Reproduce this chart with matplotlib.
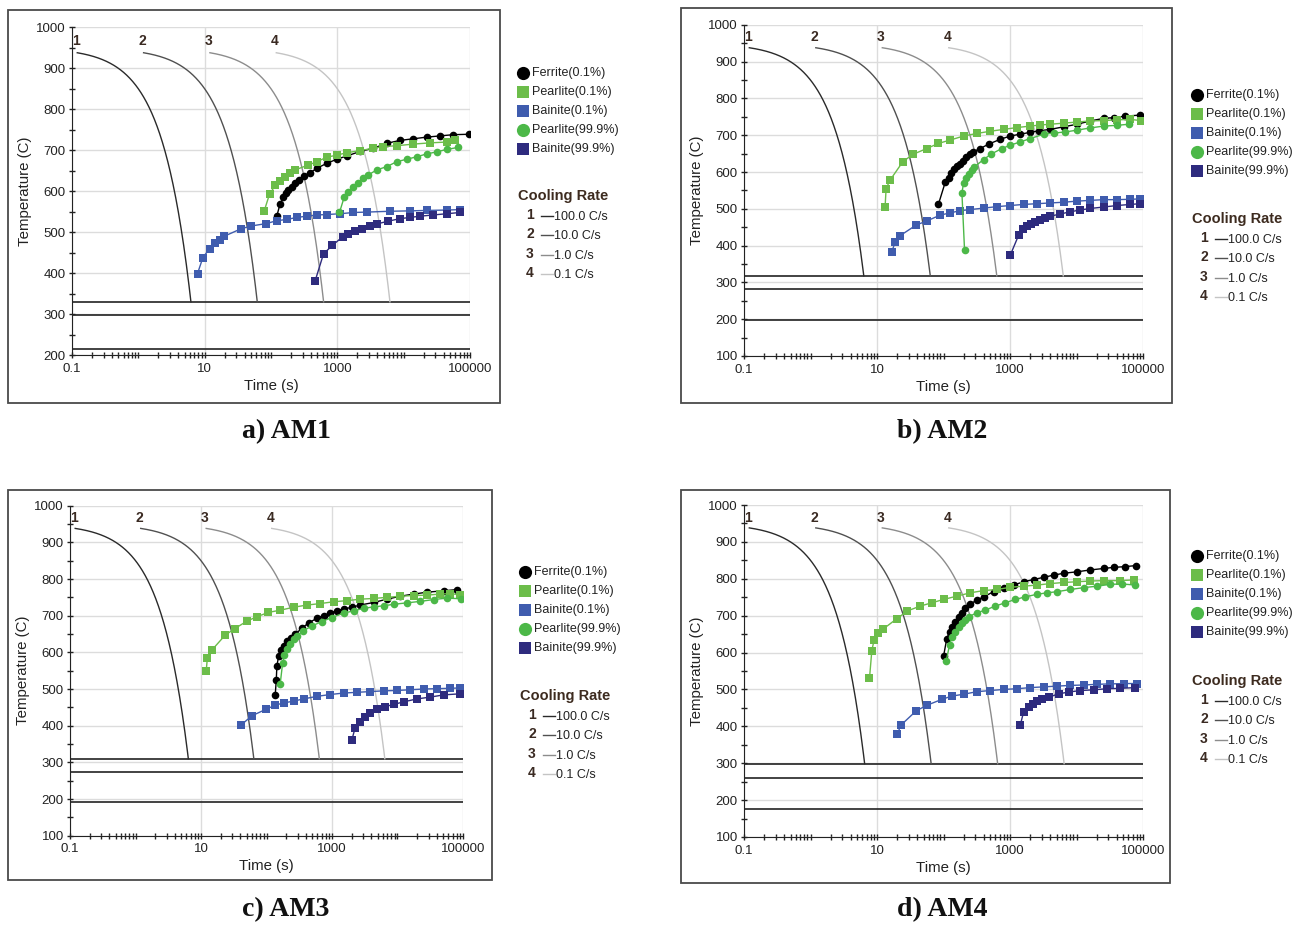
import numpy as np
import matplotlib.pyplot as plt
from matplotlib.ticker import FixedLocator, FixedFormatter, LogLocator, NullFormatter, MultipleLocator
from matplotlib.patches import Rectangle

plt.rcParams['font.family'] = ['Liberation Sans', 'DejaVu Sans']

W, H = 1309, 927

# cooling curves (same in every panel)
rate_labels = ['1', '2', '3', '4']
rates = [100.0, 10.0, 1.0, 0.1]
rate_text = ['100.0 C/s', '10.0 C/s', '1.0 C/s', '0.1 C/s']
curve_start_t = [0.12, 1.2, 12, 120]
start_temp = 950
curve_colors = ['#2a2a2a', '#505050', '#8c8c8c', '#c4c4c4']

x_ticks = [0.1, 10, 1000, 100000]
x_tick_labels = ['0.1', '10', '1000', '100000']

# horizontal lines (first one ends the cooling curves)
lines_a = [330, 297, 214]
lines_b = [318, 281, 199]
lines_c = [310, 275, 191]
lines_d = [299, 261, 177]

# ---- a) AM1
ferrite_a_t = [122, 137, 154, 169, 183, 206, 231, 260, 309, 389, 490, 693, 981, 1387, 2200, 3500, 5560, 8830, 14000, 22200, 35300, 56100, 97700]
ferrite_a_T = [539, 569, 585, 595, 603, 611, 619, 627, 637, 645, 656, 668, 678, 686, 697, 705, 717, 724, 728, 732, 735, 738, 739]
pearlite_a_t = [79, 95, 116, 137, 163, 194, 231, 367, 490, 693, 981, 1387, 2200, 3500, 4950, 7860, 14000, 25000, 44500, 60000]
pearlite_a_T = [552, 593, 614, 625, 635, 644, 652, 664, 672, 683, 688, 694, 699, 705, 709, 711, 715, 718, 720, 725]
bainite_a_t = [7.8, 9.4, 11.9, 14.4, 16.8, 19.7, 35, 50, 85, 122, 173, 245, 347, 501, 693, 1100, 1750, 2770, 6240, 12500, 22200, 44500, 70700]
bainite_a_T = [399, 438, 460, 473, 481, 490, 508, 515, 521, 528, 531, 536, 539, 542, 543, 545, 548, 549, 551, 552, 553, 554, 555]
pearlite99_a_t = [1076, 1265, 1470, 1750, 2080, 2470, 2940, 3930, 5560, 7860, 11100, 15700, 22200, 31500, 44500, 66700]
pearlite99_a_T = [548, 585, 599, 611, 621, 631, 640, 652, 660, 672, 678, 684, 691, 696, 702, 707]
bainite99_a_t = [462, 618, 844, 1208, 1470, 1850, 2330, 3120, 3930, 5890, 8830, 12500, 17700, 28000, 44500, 70700]
bainite99_a_T = [381, 447, 468, 489, 495, 502, 508, 515, 520, 527, 533, 536, 539, 542, 545, 548]

# ---- b) AM2
ferrite_b_t = [84, 106, 119, 129, 145, 159, 178, 195, 219, 246, 277, 357, 476, 713, 1008, 1425, 2015, 2690, 4030, 6400, 10200, 16100, 25600, 36200, 54200, 91200]
ferrite_b_T = [513, 572, 585, 598, 607, 616, 623, 631, 640, 649, 655, 664, 676, 689, 698, 703, 708, 712, 716, 723, 730, 739, 746, 748, 752, 755]
pearlite_b_t = [13.2, 13.7, 15.7, 24.4, 34.5, 56, 84, 126, 200, 318, 504, 800, 1270, 2015, 2850, 4030, 6400, 10200, 16100, 25600, 40600, 64400, 93300]
pearlite_b_T = [504, 555, 578, 628, 648, 664, 678, 687, 698, 705, 711, 716, 721, 725, 728, 730, 733, 736, 739, 740, 742, 743, 740]
bainite_b_t = [16.7, 18.7, 21.8, 38.8, 56, 89, 126, 178, 252, 400, 635, 1008, 1600, 2540, 4030, 6400, 10200, 16100, 25600, 40600, 64400, 91200]
bainite_b_T = [383, 410, 426, 456, 467, 483, 489, 495, 498, 502, 506, 509, 512, 514, 516, 518, 521, 523, 525, 525, 526, 527]
pearlite99_b_t = [207, 189, 200, 219, 241, 267, 290, 400, 521, 755, 1008, 1425, 2015, 3200, 4530, 6780, 10200, 16100, 25600, 40600, 61000]
pearlite99_b_T = [388, 544, 569, 583, 594, 605, 614, 634, 649, 664, 673, 682, 691, 703, 706, 709, 714, 720, 725, 727, 730]
bainite99_b_t = [1008, 1345, 1563, 1796, 2062, 2400, 2850, 3390, 4030, 5700, 8060, 11400, 16100, 25600, 40600, 64400, 91200]
bainite99_b_T = [374, 428, 444, 452, 459, 465, 470, 475, 480, 486, 492, 497, 501, 505, 509, 512, 514]

# ---- c) AM3
ferrite_c_t = [136, 141, 144, 154, 166, 182, 205, 236, 274, 347, 438, 588, 743, 940, 1188, 1500, 2010, 2700, 4310, 6900, 11000, 17600, 28200, 50700, 81000]
ferrite_c_T = [485, 525, 564, 591, 606, 618, 631, 640, 649, 666, 680, 693, 700, 707, 714, 718, 723, 729, 736, 745, 753, 759, 764, 768, 771]
pearlite_c_t = [12.0, 12.5, 14.6, 23.4, 33, 50, 71, 107, 162, 259, 413, 661, 1056, 1690, 2700, 4310, 6900, 11000, 17600, 28200, 45100, 64100, 91000]
pearlite_c_T = [549, 585, 606, 647, 665, 685, 697, 709, 715, 723, 729, 733, 738, 741, 745, 747, 750, 753, 755, 756, 759, 760, 757]
bainite_c_t = [41, 59.7, 98.9, 136, 182, 259, 368, 588, 940, 1500, 2400, 3840, 6140, 9810, 15700, 25000, 40100, 64100, 91000]
bainite_c_T = [402, 427, 445, 456, 462, 467, 473, 480, 485, 489, 491, 493, 495, 496, 498, 500, 501, 502, 503]
pearlite99_c_t = [162, 176, 188, 205, 230, 259, 291, 359, 493, 701, 996, 1500, 2130, 3030, 4310, 6140, 8730, 13900, 22300, 35600, 57000, 94400]
pearlite99_c_T = [515, 570, 593, 609, 624, 636, 645, 658, 672, 684, 695, 707, 713, 720, 724, 727, 731, 735, 739, 744, 748, 746]
bainite99_c_t = [2010, 2260, 2700, 3220, 3840, 4850, 6500, 8730, 12400, 19800, 31700, 50700, 91000]
bainite99_c_T = [361, 395, 411, 425, 434, 446, 452, 458, 465, 473, 478, 484, 487]

# ---- d) AM4
ferrite_d_t = [100, 112, 123, 133, 150, 168, 189, 212, 252, 318, 400, 566, 800, 1132, 1600, 2260, 3200, 4530, 6400, 10200, 16100, 25600, 36200, 54200, 79400]
ferrite_d_T = [590, 638, 656, 668, 683, 696, 708, 720, 732, 742, 751, 765, 774, 783, 792, 798, 804, 810, 815, 819, 824, 828, 831, 833, 836]
pearlite_d_t = [7.7, 8.35, 9.05, 10.5, 12.2, 19.9, 28.7, 44.6, 66.7, 100, 159, 252, 400, 635, 1008, 1600, 2540, 4030, 6400, 10200, 16100, 25600, 45600, 72400]
pearlite_d_T = [530, 605, 635, 654, 663, 692, 713, 726, 735, 744, 753, 762, 768, 771, 777, 780, 783, 787, 790, 792, 794, 795, 795, 797]
bainite_d_t = [20.3, 22.8, 38.8, 56, 94, 133, 200, 318, 504, 800, 1270, 2015, 3200, 5080, 8060, 12800, 20300, 32200, 51200, 81300]
bainite_d_T = [380, 403, 442, 457, 473, 482, 487, 494, 497, 500, 502, 505, 507, 509, 511, 512, 514, 515, 516, 516]
pearlite99_d_t = [110, 123, 133, 150, 168, 189, 212, 238, 318, 424, 600, 847, 1199, 1695, 2540, 3590, 5080, 8060, 12800, 20300, 32200, 48300, 76700]
pearlite99_d_T = [578, 620, 641, 656, 670, 681, 688, 697, 708, 715, 726, 735, 744, 751, 758, 762, 765, 771, 776, 780, 785, 786, 783]
bainite99_d_t = [1425, 1600, 1900, 2210, 2540, 3020, 3800, 5380, 7600, 11400, 18100, 28700, 45600, 76700]
bainite99_d_T = [403, 439, 452, 461, 469, 475, 479, 488, 493, 497, 499, 502, 503, 505]

series_names = ['Ferrite(0.1%)', 'Pearlite(0.1%)', 'Bainite(0.1%)', 'Pearlite(99.9%)', 'Bainite(99.9%)']
series_markers = ['o', 's', 's', 'o', 's']
series_colors = ['#000000', '#6cbd4a', '#3f5cae', '#4cb848', '#2e2b7e']

captions = ['a) AM1', 'b) AM2', 'c) AM3', 'd) AM4']


def draw_panel(rect, ymin, hlines, data):
    ax = fig.add_axes(rect)
    ax.set_xscale('log')
    ax.set_xlim(0.1, 100000)
    ax.set_ylim(ymin, 1000)
    ax.xaxis.set_major_locator(FixedLocator(x_ticks))
    ax.xaxis.set_major_formatter(FixedFormatter(x_tick_labels))
    ax.xaxis.set_minor_locator(LogLocator(base=10, subs=np.arange(1, 10), numticks=30))
    ax.xaxis.set_minor_formatter(NullFormatter())
    ax.yaxis.set_major_locator(MultipleLocator(100))
    ax.yaxis.set_minor_locator(MultipleLocator(50))
    ax.grid(True, which='major', color='#dcdcdc', lw=1)
    ax.set_axisbelow(True)
    for s in ['top', 'right']:
        ax.spines[s].set_visible(False)
    for s in ['left', 'bottom']:
        ax.spines[s].set_color('#222222')
    ax.tick_params(which='both', direction='inout', length=5, width=1,
                   colors='#222222', labelsize=9.5)
    ax.tick_params(axis='y', pad=2)
    ax.tick_params(axis='x', pad=3)
    ax.set_xlabel('Time (s)', fontsize=10.8, color='#222222', labelpad=3)
    ax.set_ylabel('Temperature (C)', fontsize=10.8, color='#222222', labelpad=3)

    for y in hlines:
        ax.axhline(y, color='#222222', lw=1.2, zorder=2)

    # constant-rate cooling curves down to the first line
    for k in range(4):
        t = np.geomspace(curve_start_t[k], (start_temp - hlines[0]) / rates[k], 300)
        ax.plot(t, start_temp - rates[k] * t, color=curve_colors[k], lw=1, zorder=2)
        ax.text(curve_start_t[k] * 0.95, start_temp - rates[k] * curve_start_t[k] + 28,
                rate_labels[k], fontsize=10, fontweight='bold', color='#3a2a22',
                ha='center', va='center')

    for (t, T), mk, col in zip(data, series_markers, series_colors):
        ax.plot(t, T, color=col, lw=1, marker=mk, ms=6 if mk == 's' else 5.5,
                mew=0, zorder=3)
    return ax


fig = plt.figure(figsize=(W / 100, H / 100), dpi=100)

draw_panel([0.0550, 0.6170, 0.3041, 0.3535], 200, lines_a,
           [(ferrite_a_t, ferrite_a_T), (pearlite_a_t, pearlite_a_T), (bainite_a_t, bainite_a_T),
            (pearlite99_a_t, pearlite99_a_T), (bainite99_a_t, bainite99_a_T)])
draw_panel([0.5684, 0.6160, 0.3048, 0.3571], 100, lines_b,
           [(ferrite_b_t, ferrite_b_T), (pearlite_b_t, pearlite_b_T), (bainite_b_t, bainite_b_T),
            (pearlite99_b_t, pearlite99_b_T), (bainite99_b_t, bainite99_b_T)])
draw_panel([0.0535, 0.0985, 0.3002, 0.3560], 100, lines_c,
           [(ferrite_c_t, ferrite_c_T), (pearlite_c_t, pearlite_c_T), (bainite_c_t, bainite_c_T),
            (pearlite99_c_t, pearlite99_c_T), (bainite99_c_t, bainite99_c_T)])
draw_panel([0.5684, 0.0971, 0.3048, 0.3581], 100, lines_d,
           [(ferrite_d_t, ferrite_d_T), (pearlite_d_t, pearlite_d_T), (bainite_d_t, bainite_d_T),
            (pearlite99_d_t, pearlite99_d_T), (bainite99_d_t, bainite99_d_T)])

# overlay in pixel coordinates for frames, legends and captions
ov = fig.add_axes([0, 0, 1, 1], zorder=10)
ov.set_xlim(0, W)
ov.set_ylim(H, 0)
ov.axis('off')

frames = [(8, 10, 500, 403), (681, 8, 1172, 403), (8, 490, 492, 880), (681, 490, 1170, 883)]
legend_x = [523, 1197, 525, 1197]
legend_y = [73, 95, 572, 556]
rate_y = [196, 219, 696, 681]
caption_x = [286, 942, 286, 942]
caption_y = [432, 432, 910, 910]

for p in range(4):
    x0, y0, x1, y1 = frames[p]
    ov.add_patch(Rectangle((x0, y0), x1 - x0, y1 - y0, fill=False, ec='#4a4a4a', lw=1.3))
    lx, ly = legend_x[p], legend_y[p]
    for i in range(5):
        yy = ly + i * 19
        ov.plot(lx, yy, marker=series_markers[i], color=series_colors[i],
                ms=9.5 if series_markers[i] == 'o' else 9, mew=0)
        ov.text(lx + 9, yy, series_names[i], fontsize=9, va='center', color='#222222')
    ry = rate_y[p]
    ov.text(lx - 5, ry, 'Cooling Rate', fontsize=10.5, fontweight='bold',
            va='center', color='#3d2b1f')
    for k in range(4):
        yy = ry + 20 + k * 19.3
        ov.text(lx + 7, yy - 1, rate_labels[k], fontsize=10, fontweight='bold',
                ha='center', va='center', color='#3a2a22')
        ov.plot([lx + 18, lx + 30], [yy, yy], color=curve_colors[k], lw=1)
        ov.text(lx + 31, yy + 1, rate_text[k], fontsize=9, va='center', color='#222222')
    ov.text(caption_x[p], caption_y[p], captions[p], fontsize=20, fontweight='bold',
            family='Liberation Serif', ha='center', va='center', color='#111111')

fig.savefig('out.png', dpi=100)
